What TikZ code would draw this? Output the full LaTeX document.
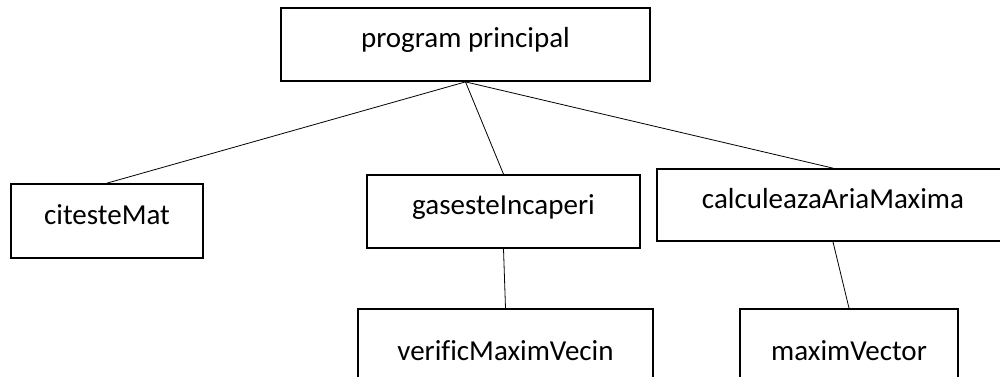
\documentclass[tikz,border=0pt]{standalone}
\usepackage{fontspec}
\setmainfont{Carlito}[Ligatures={NoCommon}]
\usetikzlibrary{positioning}

\begin{document}
\begin{tikzpicture}[
  x=0.75pt, y=-0.75pt,
  font=\fontsize{21.75}{26}\selectfont,
  box/.style ={draw,rectangle,line width=1.3pt,inner sep=0pt,
               text height=12pt,text depth=7.5pt},
  link/.style={draw,line width=0.6pt},
]

% picture area
\clip (0,0) rectangle (1000,376);

%% =============================================
%% Main program
%% =============================================
\node[box,minimum width=276.75pt,minimum height=54.75pt] (prog) at (465.5,44.5) {program principal};

%% =============================================
%% First level
%% =============================================
\node[box,minimum width=144pt,minimum height=55.5pt] (cmat) at (107,221) {citesteMat};
\node[box,minimum width=204.75pt,minimum height=54.75pt] (ginc) at (503.5,211.5) {gasesteIncaperi};
\node[box,minimum width=264pt,minimum height=54pt] (aria) at (833,205) {calculeazaAriaMaxima};

%% =============================================
%% Second level
%% =============================================
\node[box,minimum width=221.25pt,minimum height=72pt] (vmv) at (505.5,357) {verificMaximVecin};
\node[box,minimum width=163.5pt,minimum height=72pt] (maxv) at (849,357) {maximVector};

%% =============================================
%% Connections
%% =============================================
\draw[link] (prog.south) -- (cmat.north);
\draw[link] (prog.south) -- (ginc.north);
\draw[link] (prog.south) -- (aria.north);
\draw[link] (ginc.south) -- (vmv.north);
\draw[link] (aria.south) -- (maxv.north);

\end{tikzpicture}
\end{document}
